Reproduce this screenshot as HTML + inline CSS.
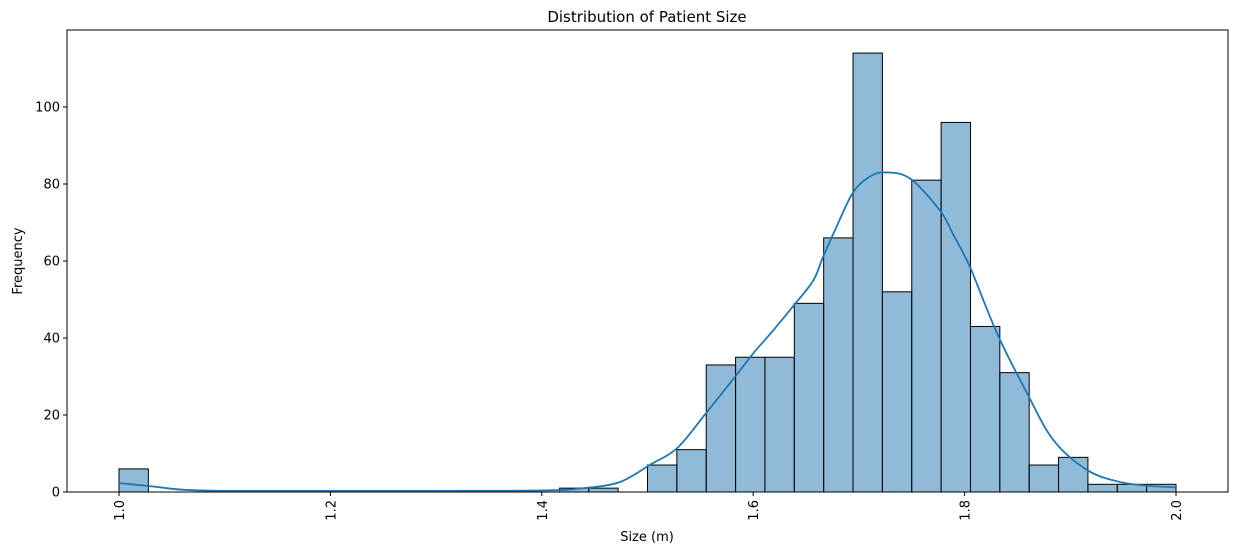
<!DOCTYPE html>
<html><head><meta charset="utf-8"><style>
body{margin:0;background:#fff;font-family:"Liberation Sans","DejaVu Sans",sans-serif}
svg text{font-family:"DejaVu Sans","Liberation Sans",sans-serif;font-size:13px;fill:#000}
</style></head><body>
<svg id="chart" width="1238" height="553">
<rect x="0" y="0" width="1238" height="553" fill="#fff"/>
<text x="647" y="22" text-anchor="middle" style="font-size:15px">Distribution of Patient Size</text>
<g id="bars"></g><g id="kde"></g><g id="axes"></g>
<text x="647" y="541" text-anchor="middle">Size (m)</text>
<text transform="translate(22,261) rotate(-90)" text-anchor="middle">Frequency</text>
</svg>
<script>
const binStart = 1.0, binWidth = 1/36;
const counts = [6,0,0,0,0,0,0,0,0,0,0,0,0,0,0,1,1,0,7,11,33,35,35,49,66,114,52,81,96,43,31,7,9,2,2,2];
const kdeX = [1.0,1.03,1.06,1.1,1.2,1.3,1.4,1.44,1.474,1.502,1.528,1.554,1.583,1.6,1.619,1.64,1.657,1.666,1.679,1.694,1.708,1.723,1.748,1.777,1.789,1.805,1.831,1.859,1.884,1.916,1.947,1.975,2.0];
const kdeY = [2.3,1.5,0.6,0.3,0.3,0.3,0.4,1.0,2.6,7,11.4,20,30,36,42,49,55,61,69,77.6,81.5,83,81.5,73,67,58.5,41,25.7,13.5,5.7,2.6,1.6,1.2];
const xTicks = [1.0,1.2,1.4,1.6,1.8,2.0];
const yTicks = [0,20,40,60,80,100];
const L=67,R=1228,T=30,B=492;
const xs = v => 119 + (v-1.0)*1057;
const ys = v => B - v*3.85;
const NS='http://www.w3.org/2000/svg';
function mk(t,a,p){const e=document.createElementNS(NS,t);for(const k in a)e.setAttribute(k,a[k]);p.appendChild(e);return e;}
const gb=document.getElementById('bars');
counts.forEach((c,i)=>{ if(c<=0)return;
 const x0=xs(binStart+i*binWidth),x1=xs(binStart+(i+1)*binWidth);
 const r=mk('rect',{x:x0,y:ys(c),width:x1-x0,height:ys(0)-ys(c),fill:'rgba(31,119,180,0.5)',stroke:'#000','stroke-width':1},gb);
 
 
});
// smooth path through kde points (Catmull-Rom)
const P=kdeX.map((x,i)=>[xs(x),ys(kdeY[i])]);
let d='M'+P[0][0]+','+P[0][1];
for(let i=0;i<P.length-1;i++){
 const p0=P[Math.max(0,i-1)],p1=P[i],p2=P[i+1],p3=P[Math.min(P.length-1,i+2)];
 const c1=[p1[0]+(p2[0]-p0[0])/6,p1[1]+(p2[1]-p0[1])/6];
 const c2=[p2[0]-(p3[0]-p1[0])/6,p2[1]-(p3[1]-p1[1])/6];
 d+=` C${c1[0]},${c1[1]} ${c2[0]},${c2[1]} ${p2[0]},${p2[1]}`;
}
const gk=document.getElementById('kde');
const pl=mk('path',{d:d,fill:'none',stroke:'#1f77b4','stroke-width':1.8,'stroke-linejoin':'round'},gk);


const ga=document.getElementById('axes');
const fr=mk('rect',{x:L,y:T,width:R-L,height:B-T,fill:'none',stroke:'#000','stroke-width':1},ga);


xTicks.forEach(v=>{const x=xs(v);
 mk('line',{x1:x,x2:x,y1:B,y2:B+4,stroke:'#000'},ga);
 const t=mk('text',{transform:`translate(${x+5},${B+8}) rotate(-90)`,'text-anchor':'end'},ga);
 t.textContent=v.toFixed(1);
 
 
});
yTicks.forEach(v=>{const y=ys(v);
 mk('line',{x1:L-4,x2:L,y1:y,y2:y,stroke:'#000'},ga);
 const t=mk('text',{x:L-7,y:y+4.5,'text-anchor':'end'},ga);
 t.textContent=v;
 
 
});
</script>
</body></html>
